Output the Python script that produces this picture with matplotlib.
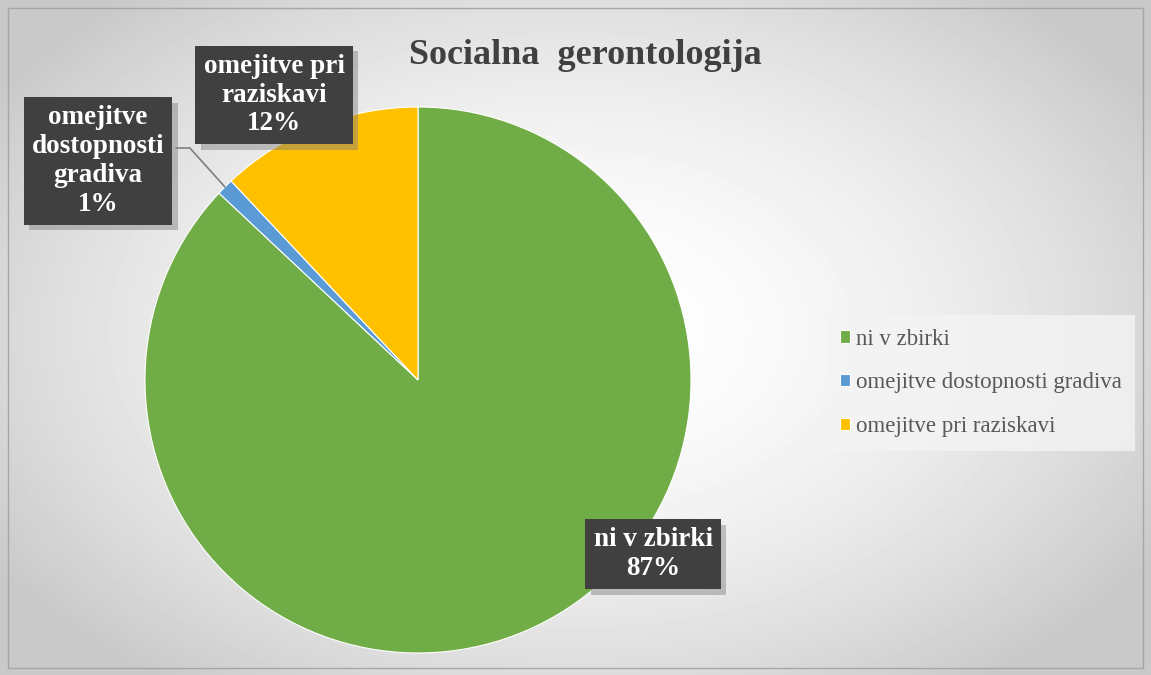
import numpy as np
import matplotlib.pyplot as plt
import matplotlib.patheffects as pe
from matplotlib.patches import Rectangle

# podatki
kategorije = ["ni v zbirki", "omejitve dostopnosti gradiva", "omejitve pri raziskavi"]
vrednosti = [87, 1, 12]
oznake = ["ni v zbirki\n87%", "omejitve\ndostopnosti\ngradiva\n1%", "omejitve pri\nraziskavi\n12%"]
barve = ["#70ad47", "#5b9bd5", "#ffc000"]

W, H = 1151, 675
plt.rcParams["font.family"] = ["Liberation Serif", "DejaVu Serif"]
fig = plt.figure(figsize=(W / 100, H / 100), dpi=100)

# ozadje z radialnim prelivom
ozadje = fig.add_axes([0, 0, 1, 1], zorder=0)
yy, xx = np.mgrid[0:H, 0:W]
r = np.sqrt(((xx - 570) / 620.0) ** 2 + ((yy - 330) / 400.0) ** 2)
siva = 1 - 0.18 * np.clip(r, 0, 1.1) ** 1.8
ozadje.imshow(siva, cmap="gray", vmin=0, vmax=1, extent=[0, W, 0, H], origin="upper", aspect="auto")
ozadje.set_xlim(0, W)
ozadje.set_ylim(0, H)
ozadje.axis("off")
ozadje.add_patch(Rectangle((8, 7), W - 16, H - 15, fill=False, edgecolor="#a6a6a6", linewidth=1))

# pita
cx, cy, rad = 418, 380, 273
ax = fig.add_axes([(cx - rad) / W, (H - cy - rad) / H, 2 * rad / W, 2 * rad / H], zorder=1)
ax.patch.set_alpha(0)
klini, _ = ax.pie(vrednosti, colors=barve, startangle=90, counterclock=False,
                  wedgeprops=dict(edgecolor="white", linewidth=0.8))
ax.set_xlim(-1, 1)
ax.set_ylim(-1, 1)
ax.set_aspect("equal")

# naslov
fig.text(585 / W, 1 - 55 / H, "Socialna  gerontologija", ha="center", va="center",
         fontsize=26, fontweight="bold", color="#404040")

# oznake v temnih okvirjih
polozaji = [(653, 554), (98, 161), (274, 95)]
senca = [pe.withSimplePatchShadow(offset=(4, -4), shadow_rgbFace="#7f7f7f", alpha=0.45)]
for i, klin in enumerate(klini):
    kot = np.deg2rad((klin.theta1 + klin.theta2) / 2)
    tocka = (np.cos(kot), np.sin(kot))
    px, py = polozaji[i]
    if i == 1:
        # povezovalna crta od okvirja do tankega klina
        ax.annotate("", xy=tocka, xycoords="data",
                    xytext=(176 / W, 1 - 148 / H), textcoords="figure fraction",
                    annotation_clip=False,
                    arrowprops=dict(arrowstyle="-", color="#7f7f7f", linewidth=1.2,
                                    connectionstyle="angle,angleA=0,angleB=-48,rad=0",
                                    shrinkA=0, shrinkB=0))
    t = fig.text(px / W, 1 - py / H, oznake[i], ha="center", va="center",
                 fontsize=19.5, fontweight="bold", color="white", linespacing=1.2,
                 zorder=5,
                 bbox=dict(boxstyle="square,pad=0.3", facecolor="#404040", edgecolor="none"))
    t.get_bbox_patch().set_path_effects(senca)

# legenda
leg = fig.legend(klini, kategorije, loc="center left", bbox_to_anchor=(826 / W, 1 - 383 / H),
                 frameon=True, fontsize=16.5, handlelength=0.45, handleheight=0.45,
                 handletextpad=0.25, labelspacing=1.0, borderpad=0.6, borderaxespad=0,
                 fancybox=False, labelcolor="#595959")
leg.get_frame().set_facecolor("#f4f4f4")
leg.get_frame().set_edgecolor("none")
leg.get_frame().set_alpha(0.8)

fig.savefig("out.png", dpi=100)
